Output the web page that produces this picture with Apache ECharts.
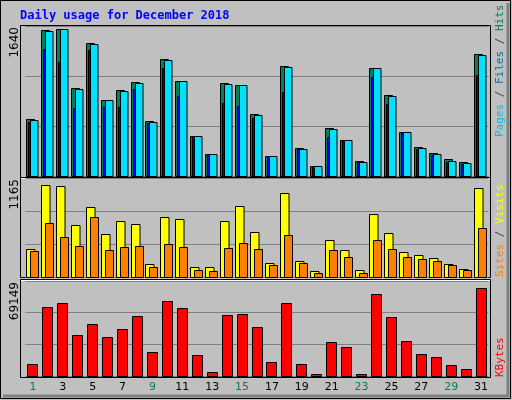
<!DOCTYPE html>
<html><head><meta charset="utf-8">
<script src="https://cdn.jsdelivr.net/npm/echarts@6/dist/echarts.min.js"></script>
<style>html,body{margin:0;padding:0;background:#c0c0c0}#c{width:512px;height:400px}</style>
</head><body><div id="c"></div>
<script>
const days = ['1','2','3','4','5','6','7','8','9','10','11','12','13','14','15','16','17','18','19','20','21','22','23','24','25','26','27','28','29','30','31'];
const weekend = [1,2,8,9,15,16,22,23,29,30];
const hits  = [623,1593,1611,959,1451,831,940,1024,598,1276,1039,434,237,1013,995,674,219,1203,303,109,525,390,160,1177,882,477,317,248,182,150,1334];
const files = [609,1590,1605,948,1440,828,926,1013,587,1265,1035,434,237,1002,990,664,217,1188,292,109,510,390,158,1177,871,477,303,237,160,139,1319];
const pages = [587,1385,1246,740,1374,754,754,951,579,1177,871,433,237,795,762,631,215,918,290,107,426,385,155,1082,787,470,300,230,158,135,1101];
const visits = [333,1087,1075,616,828,510,663,628,157,710,686,122,122,663,839,533,169,992,192,75,439,322,86,745,522,298,263,228,157,98,1051];
const sites  = [310,639,475,369,710,322,357,369,122,392,357,86,75,345,404,333,145,498,169,51,322,239,51,439,333,239,216,192,145,86,581];
const kbytes = [8644,49993,53497,29669,38079,28267,33874,43685,17754,54899,49292,14951,3037,44386,45087,35976,10045,53497,8644,1635,24763,21259,1635,59805,42984,25464,16353,13549,7943,5139,64010];
const maxHits = 1640, maxVisits = 1165, maxKB = 69149;

function barSeries(data, idx, color, x0, x1, z) {
  return {
    type: 'custom', xAxisIndex: idx, yAxisIndex: idx, z: z,
    data: data.map((v, i) => [i, v]),
    renderItem: function (params, api) {
      const top = api.coord([api.value(0), api.value(1)]);
      const base = api.coord([api.value(0), 0]);
      return { type: 'rect', shape: { x: Math.round(top[0] + x0) + 0.5, y: Math.round(top[1]) + 0.5, width: x1 - x0, height: Math.round(base[1] - top[1]) },
        style: { fill: color, stroke: '#000', lineWidth: 1 } };
    }
  };
}
const L = 25.5, R = 23.5;
const grids = [
  { left: L, right: R, top: 26, height: 150 },
  { left: L, right: R, top: 178, height: 99 },
  { left: L, right: R, top: 281, height: 95 }
];
const maxes = [maxHits, maxVisits, maxKB];
const xAxes = grids.map((g, i) => ({
  type: 'category', gridIndex: i, data: days, boundaryGap: true,
  axisLine: { show: false }, axisTick: { show: false },
  axisLabel: i === 2 ? { show: true, margin: 6, fontFamily: 'DejaVu Sans', fontSize: 11,
    color: function (v) { return weekend.includes(+v) ? '#00805c' : '#000'; } } : { show: false }
}));
const yAxes = grids.map((g, i) => ({
  type: 'value', gridIndex: i, min: 0, max: maxes[i], interval: maxes[i] / 3,
  axisLabel: { show: false }, axisLine: { show: false }, axisTick: { show: false },
  splitLine: { show: true, lineStyle: { color: '#808080', width: 1 } }
}));
const mono = 'DejaVu Sans Mono';
function rtxt(x, y, rich, parts) {
  return { type: 'text', x: x, y: y, rotation: Math.PI / 2,
    style: { text: parts, rich: rich, font: '11px ' + mono, align: 'right', verticalAlign: 'middle' } };
}
const chart = echarts.init(document.getElementById('c'));
chart.setOption({
  animation: false,
  backgroundColor: '#c0c0c0',
  grid: grids, xAxis: xAxes, yAxis: yAxes,
  graphic: [
    { type: 'rect', shape: { x: 0.5, y: 0.5, width: 510, height: 398 }, style: { fill: 'none', stroke: '#000' } },
    { type: 'polyline', shape: { points: [[508, 3], [508, 396], [3, 396]] }, style: { stroke: '#808080', lineWidth: 3, fill: 'none' } },
    { type: 'text', x: 20, y: 16, style: { text: 'Daily usage for December 2018', font: 'bold 12px ' + mono, fill: '#0000ff', verticalAlign: 'middle' } },
    { type: 'rect', z: -1, shape: { x: 20.5, y: 25.5, width: 470, height: 152 }, style: { fill: 'none', stroke: '#000' } },
    { type: 'rect', z: -1, shape: { x: 20.5, y: 177.5, width: 470, height: 100 }, style: { fill: 'none', stroke: '#000' } },
    { type: 'rect', z: -1, shape: { x: 20.5, y: 279.5, width: 470, height: 98 }, style: { fill: 'none', stroke: '#000' } },
    { type: 'line', shape: { x1: 21, y1: 178.5, x2: 490, y2: 178.5 }, style: { stroke: '#fff' } },
    { type: 'line', shape: { x1: 21, y1: 280.5, x2: 490, y2: 280.5 }, style: { stroke: '#fff' } },
    { type: 'text', x: 15, y: 27, rotation: Math.PI / 2, style: { text: String(maxHits), font: '12px DejaVu Sans', fill: '#000', align: 'right', verticalAlign: 'middle' } },
    { type: 'text', x: 15, y: 179, rotation: Math.PI / 2, style: { text: String(maxVisits), font: '12px DejaVu Sans', fill: '#000', align: 'right', verticalAlign: 'middle' } },
    { type: 'text', x: 15, y: 282, rotation: Math.PI / 2, style: { text: String(maxKB), font: '12px DejaVu Sans', fill: '#000', align: 'right', verticalAlign: 'middle' } },
    { type: 'text', x: 500, y: 137, rotation: Math.PI / 2, style: { text: '{p|Pages}{s| / }{f|Files}{s| / }{h|Hits}', font: '11px ' + mono, align: 'left', verticalAlign: 'middle',
      rich: { p: { fill: '#00c0e0', font: '11px ' + mono }, f: { fill: '#0070b0', font: '11px ' + mono }, h: { fill: '#00805c', font: '11px ' + mono }, s: { fill: '#404040', font: '11px ' + mono } } } },
    { type: 'text', x: 500, y: 277, rotation: Math.PI / 2, style: { text: '{a|Sites}{s| / }{b|Visits}', font: '11px ' + mono, align: 'left', verticalAlign: 'middle',
      rich: { a: { fill: '#ff8000', font: '11px ' + mono }, b: { fill: '#ffff00', font: '11px ' + mono }, s: { fill: '#404040', font: '11px ' + mono } } } },
    { type: 'text', x: 500, y: 377, rotation: Math.PI / 2, style: { text: 'KBytes', font: '11px ' + mono, fill: '#ff0000', align: 'left', verticalAlign: 'middle' } }
  ],
  series: [
    barSeries(hits, 0, '#00805c', -7, 1, 1),
    barSeries(pages, 0, '#0000ff', -5, 3, 2),
    barSeries(files, 0, '#00e0ff', -3, 4.5, 3),
    barSeries(visits, 1, '#ffff00', -7, 1.5, 1),
    barSeries(sites, 1, '#ff8000', -3, 5, 2),
    barSeries(kbytes, 2, '#ff0000', -5.5, 4.5, 1)
  ]
});
</script></body></html>
